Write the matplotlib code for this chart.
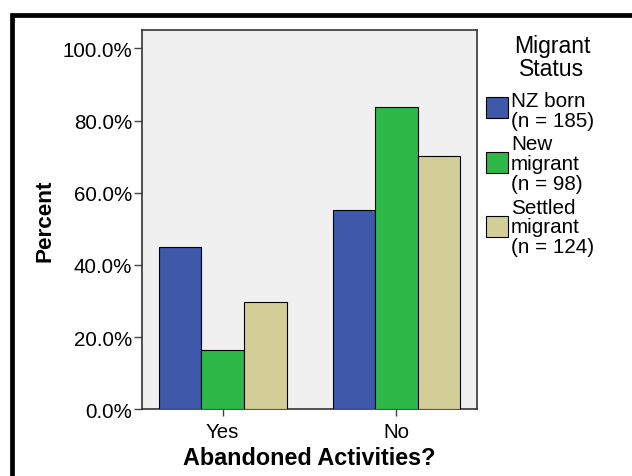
import matplotlib
matplotlib.use("Agg")
import matplotlib.pyplot as plt
from matplotlib.patches import Rectangle
from matplotlib.lines import Line2D
import numpy as np

plt.rcParams['font.family'] = ['Liberation Sans', 'DejaVu Sans']

categories = ["Yes", "No"]
series_names = ["NZ born\n(n = 185)", "New\nmigrant\n(n = 98)", "Settled\nmigrant\n(n = 124)"]
nz_born = [44.9, 55.1]
new_migrant = [16.3, 83.7]
settled_migrant = [29.8, 70.2]
yticks = [0, 20, 40, 60, 80, 100]
ytick_labels = ["0.0%", "20.0%", "40.0%", "60.0%", "80.0%", "100.0%"]
colors = ["#3E58AA", "#2EB848", "#D3CE97"]

W, H = 632, 477
fig = plt.figure(figsize=(W / 100, H / 100), dpi=100)
fig.patch.set_facecolor("white")

ax_l, ax_r, ax_t, ax_b = 141.7, 476.7, 30.7, 410.3
ax = fig.add_axes([ax_l / W, 1 - ax_b / H, (ax_r - ax_l) / W, (ax_b - ax_t) / H])
ax.set_facecolor("#F0F0F0")

x = np.arange(len(categories))
bw = 0.245
for i, vals in enumerate([nz_born, new_migrant, settled_migrant]):
    ax.bar(x + (i - 1) * bw, vals, width=bw, color=colors[i],
           edgecolor="black", linewidth=0.8, zorder=3)

ax.set_xlim(-0.466, 1.462)
ax.set_ylim(0, 105.2)
ax.set_yticks(yticks)
ax.set_yticklabels(ytick_labels)
ax.set_xticks(x)
ax.set_xticklabels(categories)
for s in ax.spines.values():
    s.set_color("#333333")
    s.set_linewidth(1.2)
ax.tick_params(axis="y", length=5.5, width=1.0, color="#444444", pad=1.5, labelsize=14.8)
ax.tick_params(axis="x", length=4.8, width=1.0, color="#444444", pad=4, labelsize=14.8)

ax.set_ylabel("Percent", fontsize=16.2, fontweight="bold", va="center")
ax.yaxis.set_label_coords((45 - ax_l) / (ax_r - ax_l), 0.5)
ax.set_xlabel("Abandoned Activities?", fontsize=16.8, fontweight="bold", va="center")
ax.xaxis.set_label_coords(0.5, -(458.3 - ax_b) / (ax_b - ax_t))

# legend (manual, SPSS style)
fig.text(552 / W, 1 - 47 / H, "Migrant", ha="center", va="center", fontsize=16.6)
fig.text(552 / W, 1 - 70 / H, "Status", ha="center", va="center", fontsize=16.6)
line_y0 = [101.7, 145, 208]
patch_top = [98.3, 153, 217]
for i, name in enumerate(series_names):
    fig.patches.append(Rectangle((486 / W, 1 - (patch_top[i] + 21) / H), 21.5 / W, 21 / H,
                                 transform=fig.transFigure, facecolor=colors[i],
                                 edgecolor="black", linewidth=0.8))
    for j, ln in enumerate(name.split("\n")):
        fig.text(511 / W, 1 - (line_y0[i] + 20 * j) / H, ln, ha="left", va="center", fontsize=14.9)

# outer frame (clipped at right and bottom)
fx, fy = 12.3, 16.3
fig.lines.append(Line2D([fx / W, fx / W, 1.05], [-0.05, 1 - fy / H, 1 - fy / H],
                        transform=fig.transFigure, color="black", linewidth=3.4,
                        solid_joinstyle="miter"))

fig.savefig("out.png", dpi=100)
